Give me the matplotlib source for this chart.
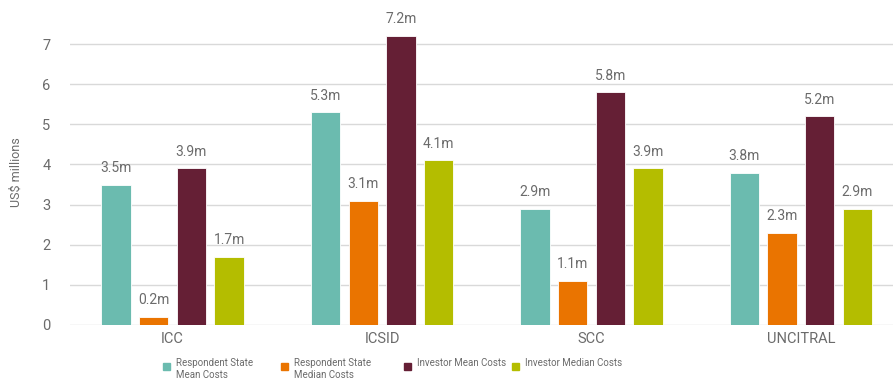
import numpy as np
import matplotlib
matplotlib.use("Agg")
import matplotlib.pyplot as plt
from matplotlib.patches import Rectangle

categories = ['ICC', 'ICSID', 'SCC', 'UNCITRAL']
series_names = ['Respondent State\nMean Costs', 'Respondent State\nMedian Costs',
                'Investor Mean Costs', 'Investor Median Costs']
resp_mean = [3.5, 5.3, 2.9, 3.8]
resp_median = [0.2, 3.1, 1.1, 2.3]
inv_mean = [3.9, 7.2, 5.8, 5.2]
inv_median = [1.7, 4.1, 3.9, 2.9]
series = [resp_mean, resp_median, inv_mean, inv_median]
colors = ['#6bbbaf', '#ea7400', '#651f35', '#b4bd00']

plt.rcParams['font.family'] = ['Roboto', 'DejaVu Sans']
grey = '#6b6b6b'

fig = plt.figure(figsize=(8.93, 3.79), dpi=100)
ax = fig.add_axes([70/893, 54/379, 1 - 70/893, (325-20)/379])

x = np.arange(len(categories))
step = 0.18
width = 0.14
for i, (vals, c) in enumerate(zip(series, colors)):
    pos = x + (i - 1.5) * step
    bars = ax.bar(pos, vals, width, color=c, edgecolor='white', linewidth=0.6, zorder=3)
    for b, v in zip(bars, vals):
        ax.annotate('%.1fm' % v, (b.get_x() + b.get_width()/2, v),
                    xytext=(0, 7), textcoords='offset points',
                    ha='center', va='bottom', fontsize=10, color=grey,
                    annotation_clip=False)

ax.set_xlim(-0.49, 3.44)
ax.set_ylim(0, 7.6)
ax.set_yticks(range(0, 8))
ax.set_xticks(x)
ax.set_xticklabels(categories)
ax.yaxis.grid(True, color='#d9d9d9', linewidth=1, zorder=0)
ax.set_axisbelow(True)
for s in ax.spines.values():
    s.set_visible(False)
ax.tick_params(axis='both', length=0, labelsize=10.5, colors=grey)
ax.tick_params(axis='y', pad=14)
ax.tick_params(axis='x', pad=5)
ax.set_ylabel('US$ millions', fontsize=9, color=grey, labelpad=14)

# legend
leg_x = [163, 281, 404, 512]
for lx, name, c in zip(leg_x, series_names, colors):
    fig.add_artist(Rectangle((lx/893, (379-370)/379), 7/893, 7/379,
                             transform=fig.transFigure, color=c))
    fig.text((lx + 13)/893, (379-358)/379, name, fontsize=7, color=grey,
             ha='left', va='top', linespacing=1.3)

plt.savefig('out.png', dpi=100)
